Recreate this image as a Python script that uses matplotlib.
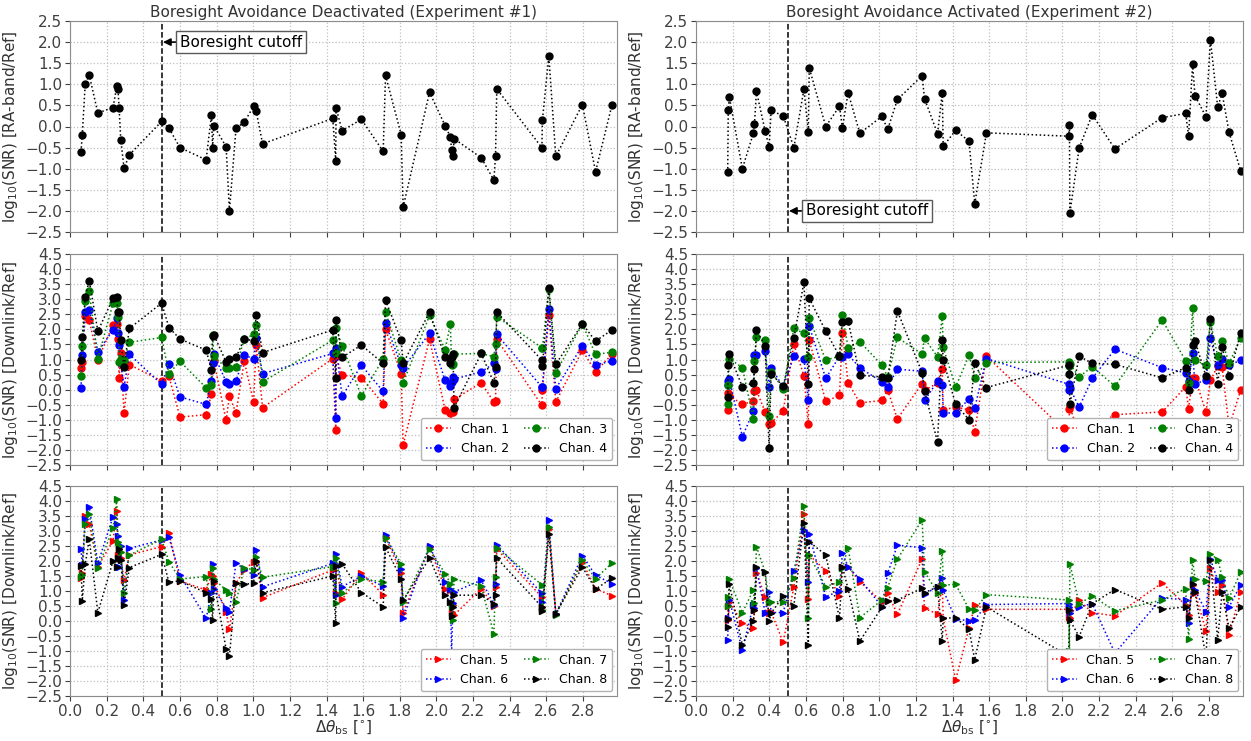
import numpy as np
import matplotlib
matplotlib.use('Agg')
import matplotlib.pyplot as plt
from matplotlib.ticker import MultipleLocator

# ---------------- Experiment #1 (boresight avoidance deactivated) ----------------
x1 = [0.06, 0.067, 0.083, 0.105, 0.152, 0.235, 0.255, 0.262, 0.268, 0.277, 0.295, 0.324,
      0.50, 0.54, 0.60, 0.743, 0.772, 0.778, 0.785, 0.852, 0.870, 0.906, 0.951, 1.002,
      1.016, 1.051, 1.434, 1.450, 1.452, 1.485, 1.59, 1.709, 1.722, 1.807, 1.818, 1.962,
      2.047, 2.076, 2.082, 2.09, 2.096, 2.244, 2.313, 2.322, 2.329, 2.575, 2.578, 2.613,
      2.651, 2.796, 2.868, 2.957]
ra1 = [-0.6, -0.19, 1.0, 1.22, 0.32, 0.45, 0.95, 0.88, 0.43, -0.31, -0.99, -0.67,
       0.12, -0.04, -0.5, -0.79, 0.28, -0.5, 0.02, -0.48, -2.0, -0.04, 0.1, 0.48,
       0.36, -0.41, 0.19, -0.81, 0.44, -0.1, 0.17, -0.59, 1.21, -0.19, -1.91, 0.81,
       0.02, -0.25, -0.55, -0.71, -0.29, -0.74, -1.27, -0.71, 0.89, -0.5, 0.15, 1.67,
       -0.71, 0.52, -1.07, 0.5]
ch1_e1 = [0.73, 0.92, 2.45, 2.31, 1.0, 2.14, 2.18, 1.67, 0.39, 1.2, -0.77, 0.83,
          0.29, 0.44, -0.91, -0.83, -0.16, 0.9, 0.95, -1.02, -0.22, -0.77, 0.94, -0.41,
          1.48, -0.6, 1.03, -1.33, 1.1, 0.48, 0.4, -0.47, 2.0, 0.53, -1.83, 1.67,
          -0.67, -0.78, -1.1, -0.74, -0.32, 0.23, -0.41, -0.38, 1.67, -0.52, 0.0, 2.46,
          -0.41, 1.31, 0.59, 1.17]
ch2_e1 = [0.06, 1.14, 2.57, 2.64, 1.26, 1.98, 2.37, 1.87, 1.48, 0.87, 0.09, 1.17,
          0.18, 0.84, -0.24, -0.49, 0.29, 0.87, 1.17, 0.26, 0.18, 0.28, 1.14, 1.03,
          1.7, 0.53, 1.2, -0.93, 1.37, -0.22, 0.81, -0.06, 2.2, 0.81, 0.73, 1.87,
          0.31, 0.12, 0.26, 0.42, 0.35, 0.59, 0.87, 0.7, 1.83, 0.09, 0.1, 2.67,
          0.03, 1.46, 0.83, 0.94]
ch3_e1 = [0.44, 1.46, 2.95, 3.26, 1.03, 2.87, 2.89, 2.42, 0.92, 1.03, 0.98, 1.57,
          1.73, 0.53, 0.94, 0.06, 0.14, 1.81, 1.1, 0.73, 0.73, 0.75, 1.68, 1.83,
          2.14, 0.26, 1.64, 1.2, 2.03, 1.46, -0.21, 1.03, 2.57, 0.98, 0.22, 2.46,
          1.33, 2.18, 0.81, 0.85, 1.18, 1.2, 1.09, 1.53, 2.42, 1.39, 1.39, 3.35,
          0.56, 2.18, 1.17, 1.24]
ch4_e1 = [1.0, 1.73, 3.09, 3.62, 1.94, 3.03, 3.06, 2.59, 2.59, 1.64, 0.76, 2.03,
          2.87, 2.06, 1.68, 1.31, 0.64, 1.79, 1.82, 0.92, 1.03, 1.07, 1.68, 1.62,
          2.46, 1.23, 1.98, 0.37, 2.31, 1.07, 1.48, 0.87, 2.96, 1.64, 0.87, 2.57,
          1.07, 0.87, 1.07, 1.18, -0.6, 1.2, 0.22, 0.76, 2.57, 0.98, 0.78, 3.37,
          0.84, 2.18, 1.61, 1.98]
ch5_e1 = [1.45, 1.6, 3.5, 3.23, 1.81, 2.68, 3.68, 2.2, 2.4, 2.1, 1.37, 2.2,
          2.48, 2.92, 1.34, 1.03, 1.56, 1.5, 1.26, 0.31, -0.28, 1.26, 1.7, 1.98,
          1.96, 0.78, 1.7, 0.94, 1.83, 0.72, 1.6, 0.88, 2.79, 1.6, 0.28, 2.46,
          1.08, 1.03, 0.31, 0.53, 0.2, 1.08, 0.51, 1.14, 2.4, 0.8, 0.47, 3.07,
          0.25, 1.96, 1.08, 0.84]
ch6_e1 = [2.39, 1.87, 3.39, 3.81, 1.92, 3.48, 3.22, 2.83, 1.81, 2.5, 0.7, 2.42,
          2.7, 2.79, 1.53, 0.09, 0.92, 1.9, 1.06, 0.44, 0.3, 1.94, 1.72, 1.53,
          2.37, 1.14, 1.92, 0.87, 2.22, 1.14, 1.5, 1.16, 2.87, 1.74, 0.11, 2.51,
          1.3, 1.08, -1.13, 0.6, 0.97, 1.36, 0.55, 1.25, 2.54, 0.92, 0.62, 3.36,
          0.22, 2.18, 1.52, 1.25]
ch7_e1 = [1.46, 1.55, 3.23, 3.57, 1.76, 3.11, 4.06, 2.64, 2.5, 2.3, 0.94, 2.2,
          2.72, 1.98, 1.4, 1.48, 0.39, 1.76, 1.4, 1.03, 0.94, 0.64, 1.78, 1.7,
          2.14, 1.46, 1.81, 0.61, 2.09, 0.94, 1.41, 1.3, 2.76, 1.91, 0.64, 2.4,
          1.58, 1.25, 0.5, 0.03, 1.4, 1.16, -0.44, 1.47, 2.43, 1.21, 0.36, 3.14,
          0.2, 2.02, 1.41, 1.93]
ch8_e1 = [1.83, 0.68, 1.89, 2.72, 0.28, 2.0, 1.81, 2.11, 2.4, 2.05, 0.53, 1.78,
          2.22, 1.29, 1.34, 0.94, 0.73, 0.03, 1.33, -0.94, -1.17, 1.26, 1.22, 1.26,
          2.0, 0.94, 1.5, -0.06, 1.84, 1.9, 0.95, 0.47, 2.46, 1.41, 0.69, 2.1,
          0.86, 0.62, 0.18, 0.47, 0.86, 0.86, 0.58, 0.88, 2.1, 0.47, 0.33, 2.9,
          0.25, 1.8, 1.06, 1.43]

# ---------------- Experiment #2 (boresight avoidance activated) ----------------
x2 = [0.173, 0.176, 0.182, 0.253, 0.313, 0.319, 0.33, 0.377, 0.399, 0.41, 0.476, 0.534,
      0.589, 0.613, 0.618, 0.708, 0.783, 0.799, 0.83, 0.894, 1.015, 1.046, 1.099, 1.234,
      1.247, 1.318, 1.344, 1.349, 1.417, 1.49, 1.521, 1.585, 2.034, 2.038, 2.04, 2.091,
      2.162, 2.286, 2.544, 2.672, 2.688, 2.71, 2.723, 2.783, 2.807, 2.847, 2.871, 2.909,
      2.973]
ra2 = [-1.09, 0.39, 0.70, -1.0, -0.16, 0.06, 0.83, -0.10, -0.49, 0.38, 0.25, -0.5,
       0.88, -0.12, 1.39, 0.0, 0.48, -0.03, 0.80, -0.16, 0.24, -0.07, 0.64, 1.2,
       0.66, -0.17, 0.80, -0.47, -0.09, -0.35, -1.83, -0.15, -0.23, 0.03, -2.06, -0.51,
       0.28, -0.53, 0.21, 0.31, -0.22, 1.47, 0.73, 0.23, 2.06, 0.46, 0.79, -0.14,
       -1.06]
ch1_e2 = [-0.69, -0.11, -0.2, -0.49, -0.38, -0.06, -0.02, -0.74, -1.13, -1.1, -0.71, 1.5,
          0.46, -1.13, 1.64, -0.39, -0.19, 1.89, 0.23, -0.44, -0.36, -0.02, -0.97, 0.2,
          -0.02, 0.22, 0.7, -0.67, -0.58, -0.67, -1.39, 1.11, -1.47, -0.63, -0.55, -1.55,
          -1.3, -0.83, -0.74, 0.09, -0.63, 0.37, 0.39, -0.74, 0.31, 0.78, 0.76, -1.24,
          0.0]
ch2_e2 = [0.28, 0.14, 0.35, -1.56, -0.72, 1.14, 1.14, 1.29, 0.09, 0.73, 0.09, 1.11,
          1.03, -0.33, 2.11, 0.37, 1.11, 1.09, 1.17, 0.72, 0.26, 0.09, 0.68, 0.61,
          -0.36, 0.28, 0.14, -0.77, -0.78, -0.3, -0.61, 1.03, 0.18, 0.0, 0.05, -0.58,
          0.37, 1.34, 0.73, 0.56, 0.3, 1.2, 0.2, 0.31, 1.7, 0.81, 1.03, 0.81,
          0.98]
ch3_e2 = [-0.49, 0.14, 1.03, 0.73, -0.97, 0.96, 1.76, 1.64, -0.86, 0.59, 0.03, 2.03,
          1.87, 1.09, 2.37, 0.98, 1.11, 2.48, 1.39, 1.59, 0.81, 0.42, 1.73, 1.18,
          1.7, 1.09, 2.44, 1.4, 0.09, 1.14, 0.4, 0.9, 0.92, 0.8, 0.85, 0.42,
          0.76, 0.12, 2.31, 0.96, 0.22, 2.7, 0.98, 0.81, 2.26, 1.11, 1.62, 0.87,
          1.72]
ch4_e2 = [-0.24, 0.81, 1.18, 0.09, 0.23, 0.68, 1.98, 1.46, -1.93, 0.53, 0.11, 1.7,
          3.57, 0.2, 3.03, 1.94, 1.11, 2.26, 2.28, 0.48, 0.42, 0.37, 2.61, 0.56,
          -0.04, -1.74, 1.64, 0.98, -0.49, -1.0, 0.87, 0.07, 0.81, 0.51, -0.49, 1.11,
          0.87, 0.84, 0.39, 0.73, 0.0, 1.48, 1.62, 0.44, 2.34, 0.2, 1.42, 0.44,
          1.89]
ch5_e2 = [0.5, 0.05, 0.64, -0.06, -0.24, 0.37, 1.61, 0.81, 0.26, 0.3, -0.71, 1.14,
          3.56, 0.72, 2.2, 1.67, 0.83, 1.81, 1.81, 1.31, 0.64, 0.94, 0.22, 2.07,
          0.42, 0.23, 1.2, 0.09, -1.97, -0.24, 0.53, 0.39, 0.39, 0.14, 0.11, 0.7,
          0.28, 0.17, 1.27, 0.53, 0.2, 1.21, 0.95, -0.33, 1.77, 0.97, 1.21, -0.46,
          0.97]
ch6_e2 = [-0.63, 0.11, 0.7, -0.97, 0.53, 0.45, 1.76, 0.28, 0.98, 0.28, 0.28, 1.67,
          3.03, 1.31, 2.89, 0.81, 1.0, 2.26, 1.81, 1.39, 0.48, 1.59, 2.53, 2.44,
          0.9, 1.14, 1.42, 1.03, 0.06, 0.01, 0.03, 0.55, 0.58, 0.47, 0.28, 0.47,
          0.58, -1.07, 0.78, 0.7, -0.08, 1.36, 1.03, 0.31, 2.07, 1.36, 1.36, 0.47,
          1.21]
ch7_e2 = [0.81, 0.5, 1.39, 0.28, 1.03, 0.6, 2.48, 1.64, 0.64, 0.64, 0.64, 1.44,
          3.84, 0.11, 2.2, 1.14, 1.31, 1.78, 2.44, 0.11, 0.7, 1.11, 2.06, 3.37,
          1.64, 0.94, 2.33, 1.2, 1.22, 0.4, 0.36, 0.88, 0.7, -0.99, 1.91, 0.58,
          0.83, 0.34, 0.7, 1.08, -0.61, 2.04, 1.41, 1.32, 2.24, 2.05, 1.47, 0.77,
          1.63]
ch8_e2 = [-0.19, 0.07, 1.23, -0.8, 0.0, 0.37, 1.79, 1.64, 0.0, 0.26, 0.84, 0.5,
          3.28, -0.8, 2.64, 2.2, 0.09, 1.81, 1.07, -0.67, 0.46, 0.67, 0.7, 1.09,
          0.94, 1.14, -0.66, 0.09, 0.11, -0.28, -1.29, 0.47, -1.18, 0.36, 0.03, -0.52,
          0.58, 1.05, 0.39, 0.47, 0.09, 1.25, 0.97, -1.24, 2.02, -0.63, 0.97, -0.24,
          0.47]

cutoff = 0.5
colours = ['red', 'blue', 'green', 'black']

W, H = 1251, 741
fig = plt.figure(figsize=(W / 100, H / 100), dpi=100)

lefts = [70 / W, 696 / W]
wid = 547 / W
rows = [(21, 232), (254, 465), (486, 696)]


def make_ax(col, row):
    top, bot = rows[row]
    ax = fig.add_axes([lefts[col], 1 - bot / H, wid, (bot - top) / H])
    ax.set_xlim(0, 2.985)
    ax.xaxis.set_major_locator(MultipleLocator(0.2))
    ax.yaxis.set_major_locator(MultipleLocator(0.5))
    ax.grid(True, linestyle=':', color='0.75', linewidth=0.9)
    ax.set_axisbelow(True)
    ax.tick_params(labelsize=11, colors='0.25', pad=2)
    for s in ax.spines.values():
        s.set_color('0.55')
    ax.axvline(cutoff, color='black', linestyle='--', linewidth=1.1, zorder=1)
    return ax


exps = [
    (x1, ra1, [ch1_e1, ch2_e1, ch3_e1, ch4_e1], [ch5_e1, ch6_e1, ch7_e1, ch8_e1],
     'Boresight Avoidance Deactivated (Experiment #1)', 2.0),
    (x2, ra2, [ch1_e2, ch2_e2, ch3_e2, ch4_e2], [ch5_e2, ch6_e2, ch7_e2, ch8_e2],
     'Boresight Avoidance Activated (Experiment #2)', -2.0),
]

for col, (xs, ra, grp1, grp2, title, ann_y) in enumerate(exps):
    # RA-band
    ax = make_ax(col, 0)
    ax.plot(xs, ra, ':', color='black', marker='o', markersize=5, linewidth=1.1)
    ax.set_ylim(-2.5, 2.5)
    ax.set_title(title, fontsize=11, color='0.2', pad=3)
    ax.set_ylabel(r'log$_{10}$(SNR) [RA-band/Ref]', fontsize=11, color='0.2')
    ax.tick_params(labelbottom=False)
    ax.annotate('Boresight cutoff', xy=(cutoff, ann_y), xytext=(0.6, ann_y),
                fontsize=11, va='center', ha='left',
                bbox=dict(boxstyle='square,pad=0.25', fc='white', ec='0.35'),
                arrowprops=dict(arrowstyle='-|>', color='black', lw=1.2,
                                shrinkA=0, shrinkB=1))

    # Downlink channels 1-4
    ax = make_ax(col, 1)
    for k, ys in enumerate(grp1):
        ax.plot(xs, ys, ':', color=colours[k], marker='o', markersize=5,
                linewidth=1.1, label='Chan. %d' % (k + 1))
    ax.set_ylim(-2.5, 4.5)
    ax.set_ylabel(r'log$_{10}$(SNR) [Downlink/Ref]', fontsize=11, color='0.2')
    ax.tick_params(labelbottom=False)
    ax.legend(loc='lower right', ncol=2, fontsize=9, framealpha=1,
              edgecolor='0.7', handlelength=2.0, columnspacing=1.2,
              borderaxespad=0.4)

    # Downlink channels 5-8
    ax = make_ax(col, 2)
    for k, ys in enumerate(grp2):
        ax.plot(xs, ys, ':', color=colours[k], marker='>', markersize=5,
                linewidth=1.1, label='Chan. %d' % (k + 5))
    ax.set_ylim(-2.5, 4.5)
    ax.set_ylabel(r'log$_{10}$(SNR) [Downlink/Ref]', fontsize=11, color='0.2')
    ax.set_xlabel(r'$\Delta\theta_{\mathrm{bs}}$ [$^{\circ}$]', fontsize=11,
                  color='0.2', labelpad=0)
    ax.legend(loc='lower right', ncol=2, fontsize=9, framealpha=1,
              edgecolor='0.7', handlelength=2.0, columnspacing=1.2,
              borderaxespad=0.4)

fig.savefig('out.png', dpi=100)
